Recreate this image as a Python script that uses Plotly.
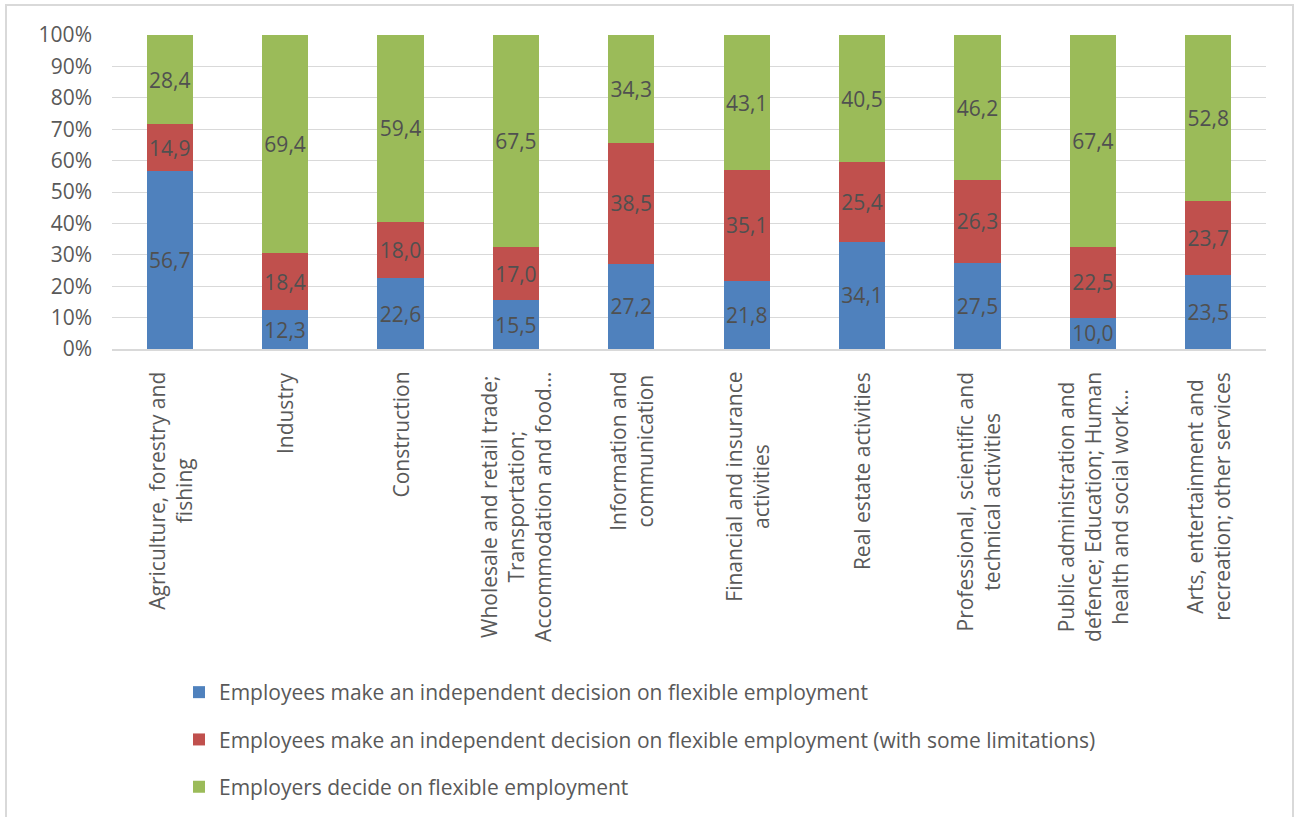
import plotly.graph_objects as go

categories = [
    "Agriculture, forestry and fishing",
    "Industry",
    "Construction",
    "Wholesale and retail trade; Transportation; Accommodation and food...",
    "Information and communication",
    "Financial and insurance activities",
    "Real estate activities",
    "Professional, scientific and technical activities",
    "Public administration and defence; Education; Human health and social work...",
    "Arts, entertainment and recreation; other services",
]
category_labels = [
    "Agriculture, forestry and<br>fishing",
    "Industry",
    "Construction",
    "Wholesale and retail trade;<br>Transportation;<br>Accommodation and food...",
    "Information and<br>communication",
    "Financial and insurance<br>activities",
    "Real estate activities",
    "Professional, scientific and<br>technical activities",
    "Public administration and<br>defence; Education; Human<br>health and social work...",
    "Arts, entertainment and<br>recreation; other services",
]

series_names = [
    "Employees make an independent decision on flexible employment",
    "Employees make an independent decision on flexible employment (with some limitations)",
    "Employers decide on flexible employment",
]
independent = [56.7, 12.3, 22.6, 15.5, 27.2, 21.8, 34.1, 27.5, 10.0, 23.5]
limited = [14.9, 18.4, 18.0, 17.0, 38.5, 35.1, 25.4, 26.3, 22.5, 23.7]
employers = [28.4, 69.4, 59.4, 67.5, 34.3, 43.1, 40.5, 46.2, 67.4, 52.8]
colors = ["#4F81BD", "#C0504D", "#9BBB59"]

y_ticks = list(range(0, 101, 10))
y_tick_labels = [f"{v}%" for v in y_ticks]

FONT = "Open Sans"
FS = 21
GRAY = "#595959"

fig = go.Figure()
for i, (name, vals, col) in enumerate(zip(series_names, [independent, limited, employers], colors)):
    fig.add_trace(go.Bar(
        x=categories,
        y=vals,
        name=name,
        marker=dict(color=col, line=dict(width=0)),
        text=[f"{v:.1f}".replace(".", ",") for v in vals],
        textposition="inside",
        insidetextanchor="middle",
        textangle=0,
        constraintext="none",
        textfont=dict(family=FONT, size=FS, color="#505050"),
        legendgroup=f"g{i}",
        hoverinfo="skip",
    ))

annotations = []
for cat, lab in zip(categories, category_labels):
    annotations.append(dict(
        x=cat, xref="x", y=0, yref="paper",
        text=lab, showarrow=False, textangle=-90,
        xanchor="center", yanchor="top", yshift=-21, align="center",
        font=dict(family=FONT, size=FS, color=GRAY),
    ))

L, R, T, B = 112, 28, 35, 468
W, H = 1294, 817
pw, ph = W - L - R, H - T - B

def px_x(p):
    return (p - L) / pw

def px_y(p):
    return (H - B - p) / ph

fig.update_layout(
    width=W, height=H,
    margin=dict(l=L, r=R, t=T, b=B, autoexpand=False),
    barmode="stack",
    barnorm="percent",
    bargap=0.6,
    plot_bgcolor="white",
    paper_bgcolor="white",
    font=dict(family=FONT, size=FS, color=GRAY),
    showlegend=True,
    legend=dict(
        x=px_x(179), y=px_y(672), xanchor="left", yanchor="top",
        orientation="v", traceorder="grouped", tracegroupgap=17,
        font=dict(family=FONT, size=FS, color=GRAY),
        bgcolor="rgba(0,0,0,0)",
    ),
    annotations=annotations,
    shapes=[dict(
        type="rect", xref="paper", yref="paper",
        x0=px_x(6), x1=px_x(1293), y0=px_y(860), y1=px_y(5),
        line=dict(color="#D9D9D9", width=2), fillcolor="rgba(0,0,0,0)", layer="below",
    )],
)
fig.update_yaxes(
    range=[0, 100], tickmode="array", tickvals=y_ticks, ticktext=y_tick_labels,
    showgrid=True, gridcolor="#D9D9D9", gridwidth=1.3,
    zeroline=False, showline=False,
    tickfont=dict(family=FONT, size=FS, color=GRAY),
    ticklabelstandoff=19,
)
fig.update_xaxes(
    showticklabels=False, showline=True, linecolor="#D9D9D9", linewidth=1.5,
    showgrid=False,
)

fig.write_html(
    "out.html",
    config={"displayModeBar": False},
    post_script="document.body.style.margin='0px';",
)
